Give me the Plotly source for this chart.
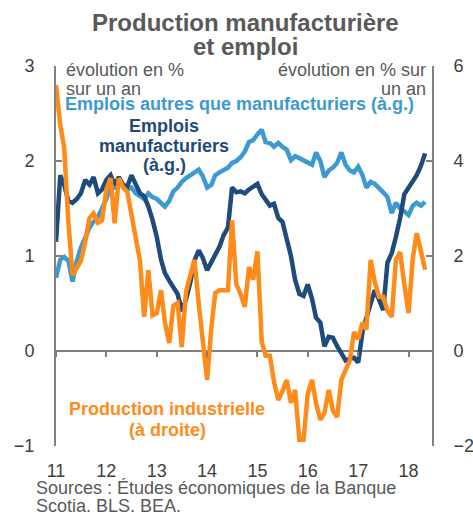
import plotly.graph_objects as go
import pandas as pd

# Monthly data, Jan 2011 - May 2018
months = pd.date_range("2011-01-01", periods=89, freq="MS")

# Emplois autres que manufacturiers (% a/a, axe gauche)
emp_autres = [0.77, 0.96, 0.99, 0.95, 0.73, 0.95, 1.09, 1.2, 1.3, 1.36, 1.41, 1.5,
              1.6, 1.73, 1.72, 1.78, 1.74, 1.7, 1.72, 1.66, 1.63, 1.6, 1.66, 1.62,
              1.6, 1.55, 1.52, 1.58, 1.68, 1.72, 1.78, 1.82, 1.85, 1.88, 1.91, 1.84,
              1.72, 1.75, 1.85, 1.88, 1.91, 1.93, 1.98, 2.0, 2.04, 2.1, 2.2, 2.22,
              2.28, 2.33, 2.2, 2.19, 2.15, 2.19, 2.15, 2.12, 2.01, 2.05, 2.03, 2.01,
              1.98, 1.96, 2.09, 2.0, 1.83, 1.9, 1.93, 1.98, 2.09, 1.96, 1.9, 1.88,
              1.94, 1.85, 1.72, 1.78, 1.76, 1.72, 1.67, 1.62, 1.45, 1.56, 1.5, 1.47,
              1.43, 1.53, 1.56, 1.53, 1.57]

# Emplois manufacturiers (% a/a, axe gauche)
emp_manuf = [1.15, 1.85, 1.75, 1.58, 1.56, 1.6, 1.66, 1.8, 1.75, 1.83, 1.66, 1.7,
             1.8, 1.85, 1.75, 1.83, 1.75, 1.73, 1.85, 1.75, 1.66, 1.63, 1.52, 1.38,
             1.2, 0.96, 0.82, 0.74, 0.67, 0.6, 0.42, 0.54, 0.72, 0.95, 1.06, 0.98,
             0.85, 0.93, 1.0, 1.1, 1.22, 1.3, 1.72, 1.67, 1.68, 1.66, 1.7, 1.73,
             1.76, 1.65, 1.6, 1.53, 1.55, 1.4, 1.36, 1.2, 1.0, 0.75, 0.6, 0.58,
             0.7, 0.55, 0.35, 0.3, 0.05, 0.15, 0.14, 0.05, -0.02, -0.1, -0.08, -0.07,
             -0.12, 0.2, 0.35, 0.5, 0.64, 0.54, 0.43, 0.93, 1.03, 1.2, 1.4, 1.65,
             1.72, 1.78, 1.85, 1.95, 2.08]

# Production industrielle (% a/a, axe droit)
prod_ind = [5.6, 4.75, 4.3, 2.7, 1.6, 1.75, 1.9, 2.3, 2.8, 2.9, 2.7, 2.75,
            3.4, 3.64, 2.69, 3.64, 3.45, 3.35, 2.85, 2.3, 1.9, 0.72, 1.7, 0.75,
            0.8, 1.28, 0.6, 0.17, 0.95, 1.01, 0.08, 1.25, 1.56, 1.92, 1.0, 0.2,
            -0.61, 0.5, 1.22, 1.28, 1.28, 1.28, 2.75, 1.4, 1.2, 0.93, 1.77, 1.5,
            2.1, 0.2, -0.1, -0.1, -0.65, -1.03, -0.85, -0.61, -1.09, -0.82, -1.87, -1.87,
            -0.9, -0.61, -1.1, -1.45, -1.3, -0.82, -1.25, -1.39, -0.6, -0.4, -0.2, 0.4,
            0.25, 0.6, 0.45, 1.92, 1.45, 1.14, 1.14, 0.85, 0.72, 1.92, 2.08, 1.4,
            0.8, 1.95, 2.48, 2.1, 1.71]

year_ticks = pd.date_range("2011-01-01", "2018-01-01", freq="YS")
year_labels = ["11", "12", "13", "14", "15", "16", "17", "18"]

LIGHT = "#3d9ad1"
NAVY = "#1f4a7c"
ORANGE = "#ff8b1a"
GREY = "#7f7f7f"
TXT = "#404040"
FONT = "Liberation Sans, Arial, sans-serif"

fig = go.Figure()
fig.add_trace(go.Scatter(x=months, y=emp_autres, mode="lines",
                         line=dict(color=LIGHT, width=4.5), yaxis="y", showlegend=False))
fig.add_trace(go.Scatter(x=months, y=emp_manuf, mode="lines",
                         line=dict(color=NAVY, width=4.5), yaxis="y", showlegend=False))
fig.add_trace(go.Scatter(x=months, y=prod_ind, mode="lines",
                         line=dict(color=ORANGE, width=4.5), yaxis="y2", showlegend=False))
# helper trace for the tick axis on the zero line
fig.add_trace(go.Scatter(x=[months[0]], y=[0], mode="markers", marker=dict(opacity=0),
                         xaxis="x2", yaxis="y", showlegend=False, hoverinfo="skip"))

x_range = ["2011-01-01", "2018-06-20"]

W, H = 473, 514
L, R, T, B = 56, 41, 66, 68

def px(x):
    return (x - L) / (W - L - R)

def py(y):
    return (H - B - y) / (H - T - B)

ann = []
def add_text(text, x, y, size, color, bold=False, xanchor="left"):
    ann.append(dict(text=f"<b>{text}</b>" if bold else text, x=px(x), y=py(y),
                    xref="paper", yref="paper", xanchor=xanchor, yanchor="middle",
                    showarrow=False, font=dict(size=size, color=color, family=FONT)))

add_text("Production manufacturière", 245, 22, 24, "#595959", True, "center")
add_text("et emploi", 245, 47, 24, "#595959", True, "center")
add_text("évolution en %", 64, 70, 18, "#595959")
add_text("sur un an", 64, 89, 18, "#595959")
add_text("évolution en % sur", 428, 70, 18, "#595959", xanchor="right")
add_text("un an", 428, 89, 18, "#595959", xanchor="right")
add_text("Emplois autres que manufacturiers (à.g.)", 63, 104, 18, LIGHT, True)
add_text("Emplois", 164, 126, 18, NAVY, True, "center")
add_text("manufacturiers", 164, 146, 18, NAVY, True, "center")
add_text("(à.g.)", 164, 165, 18, NAVY, True, "center")
add_text("Production industrielle", 167, 409, 18, ORANGE, True, "center")
add_text("(à droite)", 167, 430, 18, ORANGE, True, "center")
add_text("Sources : Études économiques de la Banque", 34, 488, 18, "#595959")
add_text("Scotia. BLS. BEA.", 34, 506, 18, "#595959")

fig.update_layout(
    width=W, height=H,
    margin=dict(l=L, r=R, t=T, b=B, pad=0, autoexpand=False),
    paper_bgcolor="white", plot_bgcolor="white",
    font=dict(family=FONT, size=18, color=TXT),
    xaxis=dict(type="date", range=x_range, tickvals=list(year_ticks), ticktext=year_labels,
               showgrid=False, zeroline=False, showline=False, ticks="outside",
               ticklen=8, tickcolor="rgba(0,0,0,0)", tickfont=dict(size=18, color=TXT),
               automargin=False),
    xaxis2=dict(type="date", range=x_range, tickvals=list(year_ticks), overlaying="x",
                anchor="free", position=0.25, showgrid=False, zeroline=False,
                showline=False, ticks="outside", ticklen=5, tickwidth=2, tickcolor=GREY,
                showticklabels=False, automargin=False),
    yaxis=dict(range=[-1, 3], tickvals=[-1, 0, 1, 2, 3], showgrid=False,
               zeroline=True, zerolinecolor=GREY, zerolinewidth=2,
               showline=True, linecolor=GREY, linewidth=2, ticks="inside", ticklen=6,
               tickwidth=2, tickcolor=GREY, ticklabelstandoff=16,
               tickfont=dict(size=18, color=TXT), automargin=False),
    yaxis2=dict(range=[-2, 6], tickvals=[-2, 0, 2, 4, 6], overlaying="y", side="right",
                showgrid=False, zeroline=False, showline=True, linecolor=GREY, linewidth=2,
                ticks="inside", ticklen=6, tickwidth=2, tickcolor=GREY,
                ticklabelstandoff=16, tickfont=dict(size=18, color=TXT), automargin=False),
    annotations=ann,
)

fig.write_html("out.html", config={"displayModeBar": False},
               post_script="document.body.style.margin='0';document.body.style.padding='0';")
